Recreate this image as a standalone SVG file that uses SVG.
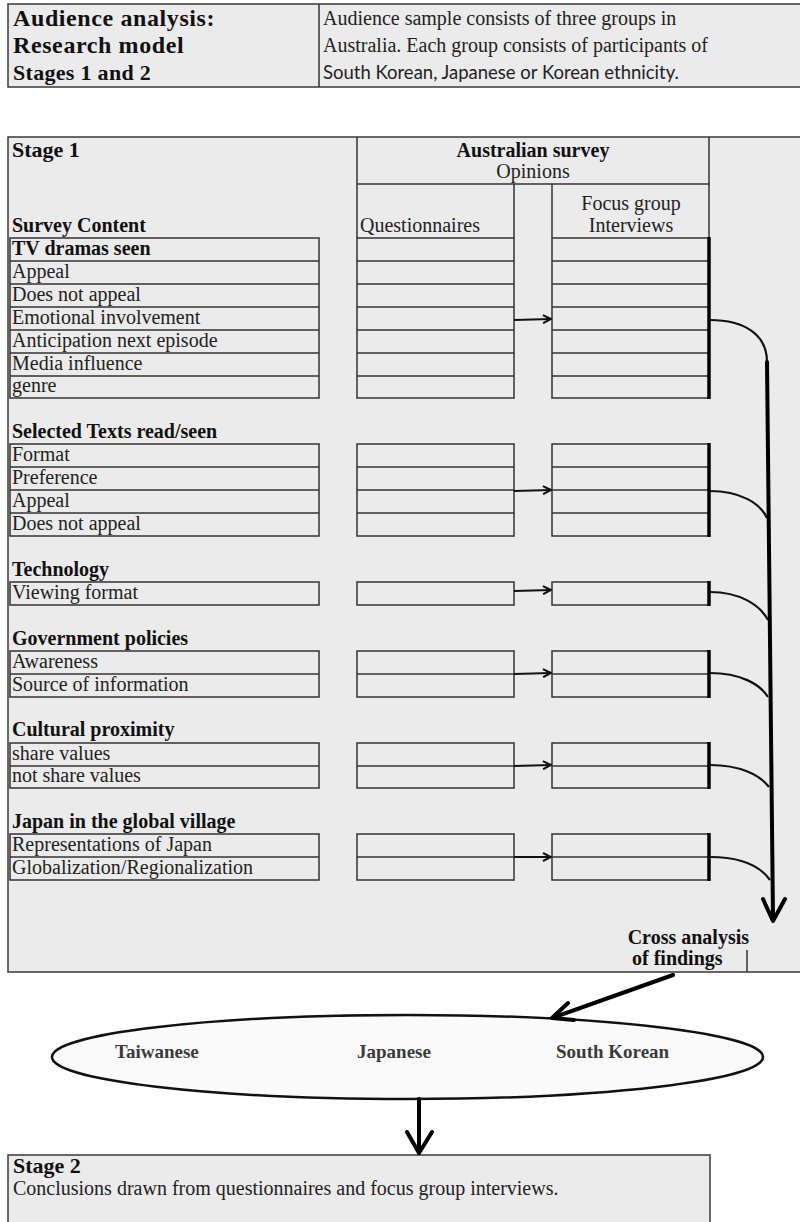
<svg xmlns="http://www.w3.org/2000/svg" width="800" height="1222" viewBox="0 0 800 1222">
<style>
  .box { fill: #ebebeb; stroke: #3a3a3a; stroke-width: 1.5; }
  .cell { fill: none; stroke: #333; stroke-width: 1.5; }
  .ln { stroke: #333; stroke-width: 1.5; fill: none; }
  .thick { stroke: #000; stroke-width: 3.5; fill: none; }
  .curve { stroke: #111; stroke-width: 2.2; fill: none; }
  .big { stroke: #000; stroke-width: 4; fill: none; stroke-linecap: round; stroke-linejoin: round; }
  .arr { stroke: #111; stroke-width: 2; fill: none; }
  .t { font-family: "Liberation Serif", "Times New Roman", serif; font-size: 20px; fill: #222; }
  .b { font-family: "Liberation Serif", "Times New Roman", serif; font-size: 20px; font-weight: bold; fill: #111; }
  .h { font-family: "Liberation Serif", "Times New Roman", serif; font-size: 24px; font-weight: bold; fill: #111; letter-spacing: 0.6px; }
  .s { font-family: Lato, "Liberation Sans", Arial, sans-serif; font-size: 18.5px; fill: #222; }
  .e { font-family: "Liberation Serif", "Times New Roman", serif; font-size: 19px; font-weight: bold; fill: #3a3a3a; }
  .c { text-anchor: middle; }
</style>
<defs>
  <marker id="ah" viewBox="0 0 10 10" refX="9" refY="5" markerWidth="10" markerHeight="10" markerUnits="userSpaceOnUse" orient="auto">
    <path d="M1,1 L9,5 L1,9" fill="none" stroke="#111" stroke-width="2"/>
  </marker>
</defs>
<rect width="800" height="1222" fill="#fff"/>

<g id="header">
  <rect class="box" x="8" y="4" width="800" height="83"/>
  <line class="ln" x1="319" y1="4" x2="319" y2="87"/>
  <text class="h" x="13" y="26">Audience analysis:</text>
  <text class="h" x="13" y="53">Research model</text>
  <text class="h" x="13" y="80" style="font-size:22px;letter-spacing:0.3px">Stages 1 and 2</text>
  <text class="t" x="323" y="25">Audience sample consists of three groups in</text>
  <text class="t" x="323" y="52">Australia. Each group consists of  participants of</text>
  <text class="s" x="323" y="79">South Korean, Japanese or Korean ethnicity.</text>
</g>

<g id="stage1">
  <rect class="box" x="8" y="137" width="800" height="835"/>
  <text class="b" x="12" y="157" style="font-size:22px">Stage 1</text>
  <text class="b" x="12" y="232">Survey Content</text>
  <line class="ln" x1="357" y1="137" x2="357" y2="238"/>
  <line class="ln" x1="709" y1="137" x2="709" y2="238"/>
  <line class="ln" x1="357" y1="184" x2="709" y2="184"/>
  <line class="ln" x1="514" y1="184" x2="514" y2="238"/>
  <line class="ln" x1="552" y1="184" x2="552" y2="238"/>
  <text class="b c" x="533" y="157">Australian survey</text>
  <text class="t c" x="533" y="178">Opinions</text>
  <text class="t" x="360" y="232">Questionnaires</text>
  <text class="t c" x="631" y="210">Focus group</text>
  <text class="t c" x="631" y="232">Interviews</text>
  <text class="b" x="749" y="944" text-anchor="end">Cross analysis</text>
  <text class="b" x="632" y="965">of findings</text>
  <line class="ln" x1="747" y1="950" x2="747" y2="972"/>
</g>

<g id="group-tv">
  <rect class="cell" x="10" y="238" width="309" height="160"/>
  <path class="ln" d="M10,261H319M10,284H319M10,307H319M10,330H319M10,353H319M10,376H319"/>
  <text class="b" x="12" y="255">TV dramas seen</text>
  <text class="t" x="12" y="278">Appeal</text>
  <text class="t" x="12" y="301">Does not appeal</text>
  <text class="t" x="12" y="324">Emotional involvement</text>
  <text class="t" x="12" y="347">Anticipation next episode</text>
  <text class="t" x="12" y="370">Media influence</text>
  <text class="t" x="12" y="392">genre</text>
  <rect class="cell" x="357" y="238" width="157" height="160"/>
  <path class="ln" d="M357,261H514M357,284H514M357,307H514M357,330H514M357,353H514M357,376H514"/>
  <rect class="cell" x="552" y="238" width="157" height="160"/>
  <path class="ln" d="M552,261H709M552,284H709M552,307H709M552,330H709M552,353H709M552,376H709"/>
  <line class="thick" x1="709" y1="237" x2="709" y2="399"/>
</g>

<g id="group-texts">
  <text class="b" x="12" y="438">Selected Texts read/seen</text>
  <rect class="cell" x="10" y="444" width="309" height="92"/>
  <path class="ln" d="M10,467H319M10,490H319M10,513H319"/>
  <text class="t" x="12" y="461">Format</text>
  <text class="t" x="12" y="484">Preference</text>
  <text class="t" x="12" y="507">Appeal</text>
  <text class="t" x="12" y="530">Does not appeal</text>
  <rect class="cell" x="357" y="444" width="157" height="92"/>
  <path class="ln" d="M357,467H514M357,490H514M357,513H514"/>
  <rect class="cell" x="552" y="444" width="157" height="92"/>
  <path class="ln" d="M552,467H709M552,490H709M552,513H709"/>
  <line class="thick" x1="709" y1="443" x2="709" y2="537"/>
</g>

<g id="group-technology">
  <text class="b" x="12" y="576">Technology</text>
  <rect class="cell" x="10" y="582" width="309" height="23"/>
  <text class="t" x="12" y="599">Viewing format</text>
  <rect class="cell" x="357" y="582" width="157" height="23"/>
  <rect class="cell" x="552" y="582" width="157" height="23"/>
  <line class="thick" x1="709" y1="581" x2="709" y2="606"/>
</g>

<g id="group-government">
  <text class="b" x="12" y="645">Government policies</text>
  <rect class="cell" x="10" y="651" width="309" height="46"/>
  <path class="ln" d="M10,674H319"/>
  <text class="t" x="12" y="668">Awareness</text>
  <text class="t" x="12" y="691">Source of information</text>
  <rect class="cell" x="357" y="651" width="157" height="46"/>
  <path class="ln" d="M357,674H514"/>
  <rect class="cell" x="552" y="651" width="157" height="46"/>
  <path class="ln" d="M552,674H709"/>
  <line class="thick" x1="709" y1="650" x2="709" y2="698"/>
</g>

<g id="group-cultural">
  <text class="b" x="12" y="736">Cultural proximity</text>
  <rect class="cell" x="10" y="743" width="309" height="45"/>
  <path class="ln" d="M10,766H319"/>
  <text class="t" x="12" y="760">share values</text>
  <text class="t" x="12" y="782">not share values</text>
  <rect class="cell" x="357" y="743" width="157" height="45"/>
  <path class="ln" d="M357,766H514"/>
  <rect class="cell" x="552" y="743" width="157" height="45"/>
  <path class="ln" d="M552,766H709"/>
  <line class="thick" x1="709" y1="742" x2="709" y2="789"/>
</g>

<g id="group-japan">
  <text class="b" x="12" y="828">Japan in the global village</text>
  <rect class="cell" x="10" y="834" width="309" height="46"/>
  <path class="ln" d="M10,857H319"/>
  <text class="t" x="12" y="851">Representations of Japan</text>
  <text class="t" x="12" y="874">Globalization/Regionalization</text>
  <rect class="cell" x="357" y="834" width="157" height="46"/>
  <path class="ln" d="M357,857H514"/>
  <rect class="cell" x="552" y="834" width="157" height="46"/>
  <path class="ln" d="M552,857H709"/>
  <line class="thick" x1="709" y1="833" x2="709" y2="881"/>
</g>

<g id="groups-ellipse">
  <ellipse cx="407.5" cy="1057" rx="355.5" ry="42" fill="#fafafa" stroke="#111" stroke-width="2.5"/>
  <text class="e" x="115" y="1058">Taiwanese</text>
  <text class="e" x="357" y="1058">Japanese</text>
  <text class="e" x="556" y="1058">South Korean</text>
</g>

<g id="stage2">
  <rect class="box" x="8" y="1155" width="702" height="80"/>
  <text class="b" x="13" y="1173" style="font-size:22px">Stage 2</text>
  <text class="t" x="13" y="1195">Conclusions drawn from questionnaires and focus group interviews.</text>
</g>

<g id="connectors">
  <line class="arr" x1="514" y1="320" x2="551" y2="319" marker-end="url(#ah)"/>
  <line class="arr" x1="514" y1="491" x2="551" y2="490" marker-end="url(#ah)"/>
  <line class="arr" x1="514" y1="591" x2="551" y2="590" marker-end="url(#ah)"/>
  <line class="arr" x1="514" y1="674" x2="551" y2="673" marker-end="url(#ah)"/>
  <line class="arr" x1="514" y1="766" x2="551" y2="765" marker-end="url(#ah)"/>
  <line class="arr" x1="514" y1="857" x2="551" y2="857" marker-end="url(#ah)"/>
  <path class="curve" d="M710,320 C745,320 767,335 767,362"/>
  <path class="curve" d="M710,491 C740,491 760,503 767,518"/>
  <path class="curve" d="M710,592 C740,592 760,605 768,620"/>
  <path class="curve" d="M710,673 C740,673 760,684 768,697"/>
  <path class="curve" d="M710,765 C740,765 760,775 769,787"/>
  <path class="curve" d="M710,857 C740,857 760,866 770,880"/>
  <line class="big" x1="767" y1="362" x2="773" y2="918"/>
  <polyline class="big" points="763,899 773,921 785,899"/>
  <line class="big" x1="673" y1="975" x2="555" y2="1017"/>
  <polyline class="big" points="568,1003 552,1018 574,1020"/>
  <line class="big" x1="419" y1="1099" x2="419" y2="1151"/>
  <polyline class="big" points="407,1132 419,1153 432,1132"/>
</g>
</svg>
